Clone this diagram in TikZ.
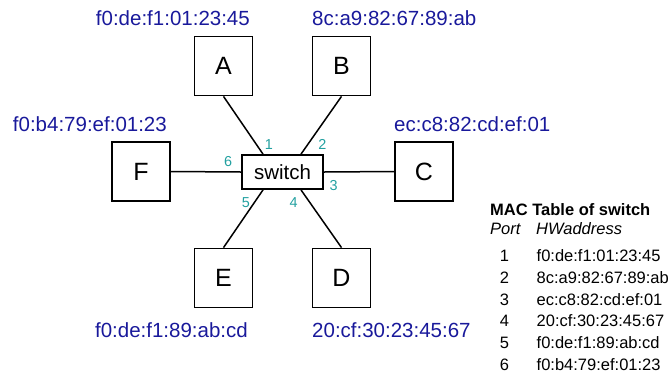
\documentclass[tikz,border=0pt]{standalone}
\usepackage{fontspec}
\setmainfont{Liberation Sans}
\definecolor{porttxt}{RGB}{34,160,160}
\definecolor{mactxt}{RGB}{25,25,155}
\begin{document}
\begin{tikzpicture}[x=1bp,y=-1bp,
  host/.style={draw,line width=1.8bp,minimum width=58bp,minimum height=59bp,inner sep=0pt,font=\fontsize{25bp}{28bp}\selectfont},
  swbox/.style={draw,line width=1.8bp,minimum width=81bp,minimum height=34bp,inner sep=0pt,font=\fontsize{20.5bp}{24bp}\selectfont},
  link/.style={line width=1.5bp},
  portlbl/.style={text=porttxt,inner sep=0pt,anchor=base,font=\fontsize{14.4bp}{16bp}\selectfont},
  maclbl/.style={text=mactxt,inner sep=0pt,font=\fontsize{20.5bp}{24bp}\selectfont},
  tbl/.style={inner sep=0pt,font=\fontsize{16.5bp}{19bp}\selectfont}]
\useasboundingbox (0,0) rectangle (672,385);
% switch and hosts
\node[swbox] (sw) at (282.5,172) {switch};
\node[host] (A) at (223.5,66) {A};
\node[host] (B) at (341.5,66) {B};
\node[host] (F) at (141,171.5) {F};
\node[host] (C) at (424,171.5) {C};
\node[host] (E) at (223.5,278) {E};
\node[host] (D) at (341.5,278) {D};
% attachment points on switch
\coordinate (p1) at ([xshift=-19.5bp]sw.north);
\coordinate (p2) at ([xshift=18.5bp]sw.north);
\coordinate (p5) at ([xshift=-19.5bp]sw.south);
\coordinate (p4) at ([xshift=18.5bp]sw.south);
% links
\draw[link] (A.south) -- (p1);
\draw[link] (B.south) -- (p2);
\draw[link] (E.north) -- (p5);
\draw[link] (D.north) -- (p4);
\draw[link] (F.east) -- (sw.west);
\draw[link] (sw.east) -- (C.west);
% port numbers
\node[portlbl] (n1) at (268.8,149.3) {1};
\node[portlbl] (n2) at (322.3,149.3) {2};
\node[portlbl] (n6) at (228.2,166.7) {6};
\node[portlbl] (n3) at (333.5,190) {3};
\node[portlbl] (n5) at (245.8,207.3) {5};
\node[portlbl] (n4) at (293.5,207.3) {4};
% MAC labels
\node[maclbl,anchor=base east] (mA) at (250,25) {f0:de:f1:01:23:45};
\node[maclbl,anchor=base west] (mB) at (312,25) {8c:a9:82:67:89:ab};
\node[maclbl,anchor=base east] (mF) at (167,131.7) {f0:b4:79:ef:01:23};
\node[maclbl,anchor=base west] (mC) at (394,131.7) {ec:c8:82:cd:ef:01};
\node[maclbl,anchor=base east] (mE) at (248,337.3) {f0:de:f1:89:ab:cd};
\node[maclbl,anchor=base west] (mD) at (312,337.3) {20:cf:30:23:45:67};
% MAC table
\node[tbl,anchor=base west,font=\fontsize{16.5bp}{19bp}\selectfont\bfseries] (tt) at (490,215) {MAC Table of switch};
\node[tbl,anchor=base west,font=\fontsize{16.5bp}{19bp}\selectfont\itshape] (hp) at (490,234) {Port};
\node[tbl,anchor=base west,font=\fontsize{16.5bp}{19bp}\selectfont\itshape] (hw) at (536,234) {HWaddress};
\node[tbl,anchor=base] (t1) at (504.5,261) {1};
\node[tbl,anchor=base west] (a1) at (536.5,261) {f0:de:f1:01:23:45};
\node[tbl,anchor=base] (t2) at (504.5,283) {2};
\node[tbl,anchor=base west] (a2) at (536.5,283) {8c:a9:82:67:89:ab};
\node[tbl,anchor=base] (t3) at (504.5,305) {3};
\node[tbl,anchor=base west] (a3) at (536.5,305) {ec:c8:82:cd:ef:01};
\node[tbl,anchor=base] (t4) at (504.5,326.7) {4};
\node[tbl,anchor=base west] (a4) at (536.5,326.7) {20:cf:30:23:45:67};
\node[tbl,anchor=base] (t5) at (504.5,348.3) {5};
\node[tbl,anchor=base west] (a5) at (536.5,348.3) {f0:de:f1:89:ab:cd};
\node[tbl,anchor=base] (t6) at (504.5,370) {6};
\node[tbl,anchor=base west] (a6) at (536.5,370) {f0:b4:79:ef:01:23};
\end{tikzpicture}
\end{document}
